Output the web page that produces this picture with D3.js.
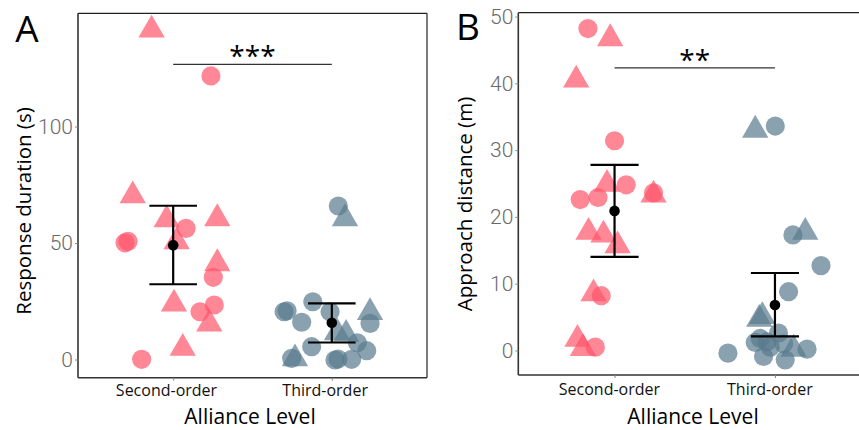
<!DOCTYPE html>
<html>
<head>
<meta charset="utf-8">
<script src="https://cdn.jsdelivr.net/npm/d3@7"></script>
<style>
  html, body { margin: 0; padding: 0; background: #fff; }
  svg { display: block; }
</style>
</head>
<body>
<div id="chart"></div>
<script>
// ---------------- DATA ----------------
const categories = ["Second-order", "Third-order"];

// Panel A: Response duration (s). Jitter is given in category units.
const aSecondCircleValues   = [50.1, 50.7, 56.3, 35.3, 20.5, 23.4, 0.1, 121.7];
const aSecondCircleJitter   = [-0.304, -0.285, 0.081, 0.253, 0.169, 0.259, -0.199, 0.238];
const aSecondTriangleValues = [70.3, 60.0, 50.6, 60.5, 41.2, 23.9, 15.3, 4.9, 141.5];
const aSecondTriangleJitter = [-0.255, -0.041, 0.022, 0.278, 0.278, 0.005, 0.228, 0.060, -0.136];
const aThirdCircleValues    = [20.5, 20.9, 16.0, 24.8, 20.5, 15.5, 5.5, -0.2, 0.2, 0.1, 7.2, 3.8, 0.5, 65.9];
const aThirdCircleJitter    = [-0.301, -0.282, -0.190, -0.120, -0.011, 0.241, -0.127, 0.020, 0.039, 0.125, 0.161, 0.220, -0.253, 0.041];
const aThirdTriangleValues  = [60.5, 20.2, 10.9, 11.5, 0.4];
const aThirdTriangleJitter  = [0.083, 0.241, 0.090, 0.033, -0.232];
const aMean  = [49.1, 15.8];
const aLower = [32.3, 7.3];
const aUpper = [66.0, 24.1];
const aTicks = [0, 50, 100];
const aSignif = "***";
const aSignifValue = 126.7;

// Panel B: Approach distance (m)
const bSecondCircleValues   = [48.2, 31.4, 24.8, 22.6, 22.9, 23.6, 8.2, 0.5];
const bSecondCircleJitter   = [-0.166, 0.0, 0.073, -0.214, -0.103, 0.243, -0.083, -0.120];
const bSecondTriangleValues = [46.7, 40.5, 24.9, 23.3, 17.7, 17.3, 15.7, 8.5, 1.7, 0.3];
const bSecondTriangleJitter = [-0.027, -0.239, -0.047, 0.243, -0.162, -0.069, 0.019, -0.131, -0.231, -0.197];
const bThirdCircleValues    = [33.6, 17.3, 12.7, 8.8, -0.4, 1.2, 1.3, 2.6, 1.0, -0.9, -1.4, 0.2, 0.5, 1.8];
const bThirdCircleJitter    = [0.002, 0.112, 0.287, 0.085, -0.293, -0.123, -0.050, 0.022, 0.054, -0.071, 0.064, 0.200, -0.029, -0.092];
const bThirdTriangleValues  = [33.0, 17.7, 4.7, 5.1, 0.2];
const bThirdTriangleJitter  = [-0.123, 0.189, -0.098, -0.079, 0.116];
const bMean  = [20.9, 6.8];
const bLower = [14.0, 2.1];
const bUpper = [27.8, 11.6];
const bTicks = [0, 10, 20, 30, 40, 50];
const bSignif = "**";
const bSignifValue = 42.3;

// ---------------- DRAW ----------------
const W = 859, H = 430;
const colors = ["#FF5469", "#587A8D"];
const pointOpacity = 0.7;

const svg = d3.select("#chart").append("svg")
  .attr("width", W).attr("height", H)
  .attr("viewBox", `0 0 ${W} ${H}`);

const triPath = (s) => {
  const top = 2 * s, half = Math.sqrt(3) * s;
  return `M0,${-top}L${half},${s}L${-half},${s}Z`;
};

function panel(cfg) {
  const g = svg.append("g");
  const x = d3.scaleLinear().domain([0.4, 2.6]).range([cfg.left, cfg.right]);
  const y = d3.scaleLinear().domain(cfg.yDomain).range([cfg.bottom, cfg.top]);

  const sets = [
    {cat: 0, vals: cfg.sc, jit: cfg.scj, shape: "c"},
    {cat: 0, vals: cfg.st, jit: cfg.stj, shape: "t"},
    {cat: 1, vals: cfg.tc, jit: cfg.tcj, shape: "c"},
    {cat: 1, vals: cfg.tt, jit: cfg.ttj, shape: "t"},
  ];
  const pts = g.append("g");
  sets.forEach(s => {
    s.vals.forEach((v, i) => {
      const px = x(s.cat + 1 + s.jit[i]), py = y(v);
      if (s.shape === "c") {
        pts.append("circle").attr("cx", px).attr("cy", py).attr("r", 9.6)
          .attr("fill", colors[s.cat]).attr("fill-opacity", pointOpacity);
      } else {
        pts.append("path").attr("d", triPath(7.6))
          .attr("transform", `translate(${px},${py})`)
          .attr("fill", colors[s.cat]).attr("fill-opacity", pointOpacity);
      }
    });
  });

  const eb = g.append("g").attr("stroke", "#000").attr("stroke-width", 2.2);
  categories.forEach((c, i) => {
    const cx = x(i + 1);
    eb.append("line").attr("x1", cx).attr("x2", cx).attr("y1", y(cfg.lower[i])).attr("y2", y(cfg.upper[i]));
    eb.append("line").attr("x1", x(i + 1 - 0.15)).attr("x2", x(i + 1 + 0.15)).attr("y1", y(cfg.upper[i])).attr("y2", y(cfg.upper[i]));
    eb.append("line").attr("x1", x(i + 1 - 0.15)).attr("x2", x(i + 1 + 0.15)).attr("y1", y(cfg.lower[i])).attr("y2", y(cfg.lower[i]));
    g.append("circle").attr("cx", cx).attr("cy", y(cfg.mean[i])).attr("r", 5.3).attr("fill", "#000");
  });

  g.append("line").attr("x1", x(1)).attr("x2", x(2))
    .attr("y1", y(cfg.sigVal)).attr("y2", y(cfg.sigVal))
    .attr("stroke", "#333").attr("stroke-width", 1.2);
  g.append("text").attr("x", (x(1) + x(2)) / 2).attr("y", y(cfg.sigVal) + 2)
    .attr("text-anchor", "middle")
    .style("font-family", "'Open Sans', sans-serif").style("font-size", "28px")
    .text(cfg.sig);

  g.append("line").attr("x1", cfg.left).attr("x2", cfg.right).attr("y1", cfg.top).attr("y2", cfg.top)
    .attr("stroke", "#222").attr("stroke-width", 1.2);
  g.append("line").attr("x1", cfg.right).attr("x2", cfg.right).attr("y1", cfg.top).attr("y2", cfg.bottom)
    .attr("stroke", "#222").attr("stroke-width", 1.2);
  g.append("line").attr("x1", cfg.left).attr("x2", cfg.right).attr("y1", cfg.bottom).attr("y2", cfg.bottom)
    .attr("stroke", "#333").attr("stroke-width", 1.6);
  g.append("line").attr("x1", cfg.left).attr("x2", cfg.left).attr("y1", cfg.top).attr("y2", cfg.bottom)
    .attr("stroke", "#333").attr("stroke-width", 1.6);

  const ya = g.append("g").attr("transform", `translate(${cfg.left},0)`)
    .call(d3.axisLeft(y).tickValues(cfg.ticks).tickSize(3).tickPadding(2));
  ya.select(".domain").remove();
  ya.selectAll("line").attr("stroke", "#888");
  ya.selectAll("text").attr("fill", "#6a6a6a")
    .style("font-family", "Roboto, sans-serif").style("font-weight", 300).style("font-size", "21px");

  const xa = g.append("g").attr("transform", `translate(0,${cfg.bottom})`)
    .call(d3.axisBottom(x).tickValues([1, 2]).tickFormat((d) => categories[d - 1]).tickSize(3).tickPadding(2));
  xa.select(".domain").remove();
  xa.selectAll("line").attr("stroke", "#888");
  xa.selectAll("text").attr("fill", "#111").attr("dx", cfg.xLabelDx)
    .attr("dy", cfg.xLabelDy)
    .style("font-family", "'Open Sans', sans-serif").style("font-size", "16px");

  g.append("text").attr("x", cfg.xTitleX).attr("y", 424)
    .attr("text-anchor", "middle")
    .style("font-family", "'Open Sans', sans-serif").style("font-size", "21px").attr("fill", "#000")
    .text("Alliance Level");
  g.append("text").attr("transform", `translate(${cfg.yTitleX},${cfg.yTitleY}) rotate(-90)`)
    .attr("text-anchor", "middle")
    .style("font-family", "'Open Sans', sans-serif").style("font-size", "20.5px").attr("fill", "#000")
    .text(cfg.yTitle);

  g.append("text").attr("x", cfg.labelX).attr("y", cfg.labelY)
    .attr("text-anchor", "middle")
    .style("font-family", "'Open Sans', sans-serif").style("font-size", "37px").attr("fill", "#000")
    .text(cfg.label);
}

panel({
  left: 78, right: 427, top: 13.3, bottom: 377.7, yDomain: [-7.8, 148.6],
  sc: aSecondCircleValues, scj: aSecondCircleJitter, st: aSecondTriangleValues, stj: aSecondTriangleJitter,
  tc: aThirdCircleValues, tcj: aThirdCircleJitter, tt: aThirdTriangleValues, ttj: aThirdTriangleJitter,
  mean: aMean, lower: aLower, upper: aUpper, ticks: aTicks, sig: aSignif, sigVal: aSignifValue,
  xLabelDx: "-0.45em", xLabelDy: "0.85em",
  xTitleX: 250, yTitleX: 31, yTitleY: 211, yTitle: "Response duration (s)",
  label: "A", labelX: 27, labelY: 42
});

panel({
  left: 518.3, right: 871.2, top: 12.7, bottom: 375, yDomain: [-3.67, 50.57],
  sc: bSecondCircleValues, scj: bSecondCircleJitter, st: bSecondTriangleValues, stj: bSecondTriangleJitter,
  tc: bThirdCircleValues, tcj: bThirdCircleJitter, tt: bThirdTriangleValues, ttj: bThirdTriangleJitter,
  mean: bMean, lower: bLower, upper: bUpper, ticks: bTicks, sig: bSignif, sigVal: bSignifValue,
  xLabelDx: "-0.35em", xLabelDy: "0.95em",
  xTitleX: 693, yTitleX: 472, yTitleY: 204, yTitle: "Approach distance (m)",
  label: "B", labelX: 468, labelY: 40
});
</script>
</body>
</html>
